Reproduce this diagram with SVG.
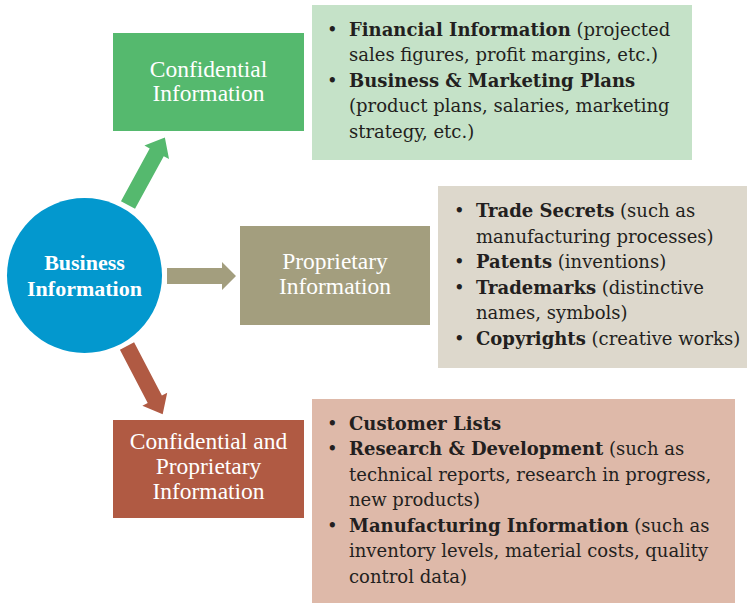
<svg xmlns="http://www.w3.org/2000/svg" width="747" height="603" viewBox="0 0 747 603">
<style>
.t{font-family:"DejaVu Serif","Liberation Serif",serif;font-size:18px;fill:#231f20}
.b{font-weight:bold}
.w{font-family:"Liberation Serif","Times New Roman",serif;font-size:23.5px;fill:#ffffff;text-anchor:middle}
.wb{font-family:"Liberation Serif","Times New Roman",serif;font-size:22px;fill:#ffffff;text-anchor:middle;font-weight:bold}
</style>
<defs>
<polygon id="arr" points="0,-8 60,-8 60,-14 77,0 60,14 60,8 0,8"/>
</defs>
<rect width="747" height="603" fill="#ffffff"/>
<g id="connectors">
<use href="#arr" fill="#55b96e" transform="translate(128,205) rotate(-61.4)"/>
<polygon points="167,268 222,268 222,262 236,276 222,290 222,284 167,284" fill="#a39e7e"/>
<use href="#arr" fill="#b05a43" transform="translate(127,346) rotate(62.4)"/>
</g>
<g id="business">
<circle cx="84.5" cy="275.5" r="77.5" fill="#0398ce"/>
<text class="wb" x="84.5" y="270">Business</text>
<text class="wb" x="84.5" y="296">Information</text>
</g>
<g id="confidential">
<rect x="113" y="33" width="191" height="98" fill="#55b96e"/>
<text class="w" x="208.5" y="77">Confidential</text>
<text class="w" x="208.5" y="101">Information</text>
</g>
<g id="confidential-details">
<rect x="312" y="5" width="380" height="155" fill="#c5e2c8"/>
<text class="t" x="327" y="36">•</text>
<text class="t" x="349" y="36"><tspan class="b">Financial Information</tspan> (projected</text>
<text class="t" x="349" y="61">sales figures, profit margins, etc.)</text>
<text class="t" x="327" y="87">•</text>
<text class="t" x="349" y="87"><tspan class="b">Business &amp; Marketing Plans</tspan></text>
<text class="t" x="349" y="112">(product plans, salaries, marketing</text>
<text class="t" x="349" y="138">strategy, etc.)</text>
</g>
<g id="proprietary">
<rect x="240" y="226" width="190" height="99" fill="#a39e7e"/>
<text class="w" x="335" y="269">Proprietary</text>
<text class="w" x="335" y="294">Information</text>
</g>
<g id="proprietary-details">
<rect x="438" y="186" width="309" height="182" fill="#ddd8cc"/>
<text class="t" x="454" y="217">•</text>
<text class="t" x="476" y="217"><tspan class="b">Trade Secrets</tspan> (such as</text>
<text class="t" x="476" y="243">manufacturing processes)</text>
<text class="t" x="454" y="268">•</text>
<text class="t" x="476" y="268"><tspan class="b">Patents</tspan> (inventions)</text>
<text class="t" x="454" y="294">•</text>
<text class="t" x="476" y="294"><tspan class="b">Trademarks</tspan> (distinctive</text>
<text class="t" x="476" y="319">names, symbols)</text>
<text class="t" x="454" y="345">•</text>
<text class="t" x="476" y="345"><tspan class="b">Copyrights</tspan> (creative works)</text>
</g>
<g id="conf-prop">
<rect x="113" y="420" width="191" height="98" fill="#b05a43"/>
<text class="w" x="208.5" y="449">Confidential and</text>
<text class="w" x="208.5" y="474">Proprietary</text>
<text class="w" x="208.5" y="499">Information</text>
</g>
<g id="conf-prop-details">
<rect x="312" y="399" width="423" height="204" fill="#deb9a9"/>
<text class="t" x="327" y="430">•</text>
<text class="t" x="349" y="430"><tspan class="b">Customer Lists</tspan></text>
<text class="t" x="327" y="455">•</text>
<text class="t" x="349" y="455"><tspan class="b">Research &amp; Development</tspan> (such as</text>
<text class="t" x="349" y="481">technical reports, research in progress,</text>
<text class="t" x="349" y="506">new products)</text>
<text class="t" x="327" y="532">•</text>
<text class="t" x="349" y="532"><tspan class="b">Manufacturing Information</tspan> (such as</text>
<text class="t" x="349" y="557">inventory levels, material costs, quality</text>
<text class="t" x="349" y="583">control data)</text>
</g>
</svg>
